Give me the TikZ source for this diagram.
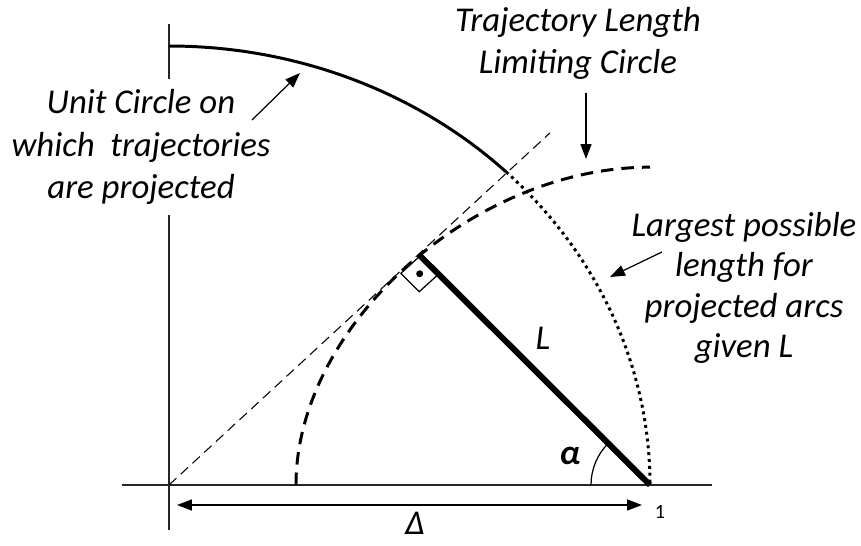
\documentclass[tikz,border=0pt]{standalone}
\usepackage{fontspec}
\setmainfont{Carlito}
\usetikzlibrary{arrows.meta, calc}

\begin{document}
\begin{tikzpicture}[
    % Global styles
    x=9.62cm, y=8.78cm,
    font=\fontsize{19.8}{24}\selectfont\itshape,
    >={Triangle[length=0.3cm, width=0.22cm]},
    % Line styles
    axisline/.style={line width=0.9pt, black!85},
    unitarc/.style={line width=1.7pt},
    dottedarc/.style={line width=1.7pt, dash pattern=on 1.7pt off 2.2pt},
    limitarc/.style={line width=1.7pt, dash pattern=on 0.25cm off 0.16cm},
    tangentline/.style={line width=0.6pt, dash pattern=on 0.2cm off 0.12cm},
    lenline/.style={line width=3.4pt},
    thinarr/.style={->, line width=0.7pt},
    notetext/.style={align=center, inner sep=0pt},
  ]

  \useasboundingbox (-3.38cm,-1.2cm) rectangle (13.84cm,9.7cm);

  % ====================================================================
  % POINTS
  % ====================================================================
  \coordinate (O) at (0,0);
  \coordinate (P1) at (1,0);
  \coordinate (F) at (0.522,0.522);
  \coordinate (E) at (0.792,0.802);
  \coordinate (M) at (45.5:1);

  % ====================================================================
  % AXES
  % ====================================================================
  \draw[axisline] (-0.098,0) -- (1.129,0);
  \draw[axisline] (0,-0.103) -- (0,1.050);

  % ====================================================================
  % CIRCLES AND LINES
  % ====================================================================
  \draw[unitarc] (0,1) arc[start angle=90, end angle=45.5, radius=1];
  \draw[dottedarc] (M) arc[start angle=45.5, end angle=0, radius=1];
  \draw[limitarc] (0.264,0) .. controls (0.264,0.362) and (0.632,0.724) .. (1,0.724);
  \draw[tangentline] (O) -- (E);
  \draw[lenline] (P1) -- (F);

  % right angle mark
  \draw[line width=0.7pt] (F) -- ++(-0.384cm,-0.350cm) -- ++(0.368cm,-0.367cm) -- ++(0.384cm,0.350cm) -- cycle;
  \fill ($(F)+(-0.008cm,-0.358cm)$) circle[radius=0.07cm];

  % angle alpha
  \draw[line width=0.7pt] ($(P1)+(-1.18cm,0)$) arc[start angle=180, end angle=135, radius=1.18cm];

  % ====================================================================
  % LABELS
  % ====================================================================
  \node[notetext, fill=white, inner sep=0.22cm] (ucText) at (-0.56cm,6.76cm)
    {Unit Circle on\\ which~~trajectories\\ are projected};
  \node[notetext] (tlText) at (8.18cm,8.84cm) {Trajectory Length\\ Limiting Circle};
  \node[notetext, font=\fontsize{19.8}{23}\selectfont\itshape] (lpText) at (11.5cm,3.94cm)
    {Largest possible\\ length for\\ projected arcs\\ given L};
  \node[notetext] (lenL) at (7.48cm,2.94cm) {L};
  \node[notetext, font=\fontsize{20}{24}\selectfont\bfseries\itshape] (alpha) at (8.02cm,0.58cm) {α};
  \node[notetext] (delta) at (4.92cm,-0.76cm) {Δ};
  \node[notetext, font=\fontsize{11.5}{14}\selectfont\upshape] (one) at (9.82cm,-0.54cm) {1};

  % ------- Arrows -------
  \coordinate (ucTail) at (1.66cm,7.30cm);
  \coordinate (ucHead) at (2.62cm,8.24cm);
  \coordinate (tlTail) at (8.34cm,7.84cm);
  \coordinate (tlHead) at (8.34cm,6.52cm);
  \coordinate (lpTail) at (9.86cm,4.66cm);
  \coordinate (lpHead) at (8.82cm,4.16cm);
  \coordinate (dLeft) at (0.16cm,-0.4cm);
  \coordinate (dRight) at (9.46cm,-0.4cm);

  \draw[thinarr] (ucTail) -- (ucHead);
  \draw[thinarr] (tlTail) -- (tlHead);
  \draw[thinarr] (lpTail) -- (lpHead);
  \draw[<->, line width=0.9pt] (dLeft) -- (dRight);

\end{tikzpicture}
\end{document}
